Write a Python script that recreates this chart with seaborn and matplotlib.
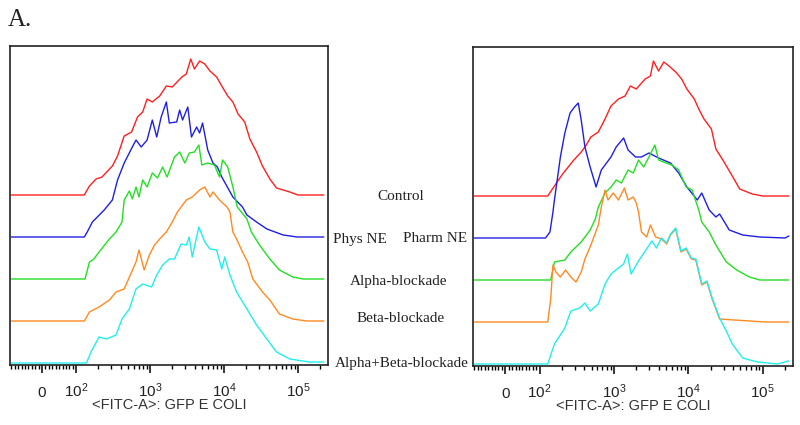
import numpy as np
import pandas as pd
import seaborn as sns
import matplotlib.pyplot as plt

SAMPLES = ["Control", "NE", "Alpha-blockade", "Beta-blockade", "Alpha+Beta-blockade"]
COLORS = ["#ff1f1f", "#1f1fe6", "#22e022", "#ff8a22", "#22eeee"]

X_START = -90      # every trace starts flat in the linear part of the axis
X_END_LOG = 5.35   # log10 of the last channel

# physiological NE panel, x = log10(FITC), y = counts
phys_ctrl_x = [2.11, 2.18, 2.27, 2.35, 2.49, 2.56, 2.65, 2.75, 2.83, 2.90,
               2.96, 3.03, 3.13, 3.22, 3.30, 3.43, 3.49, 3.55, 3.60, 3.67,
               3.74, 3.81, 3.90, 3.97, 4.05, 4.12, 4.19, 4.28, 4.35, 4.44,
               4.52, 4.62, 4.71, 4.89, 5.00]
phys_ctrl_y = [0, 9, 16, 18, 29, 39, 59, 63, 78, 83,
               96, 93, 99, 109, 108, 118, 121, 136, 126, 134,
               131, 124, 118, 109, 99, 93, 81, 73, 56, 43,
               29, 16, 7, 3, 0]
phys_ne_x = [2.11, 2.15, 2.22, 2.38, 2.49, 2.56, 2.65, 2.76, 2.81, 2.88,
             2.96, 3.03, 3.09, 3.15, 3.22, 3.26, 3.36, 3.40, 3.44, 3.51,
             3.56, 3.63, 3.67, 3.71, 3.78, 3.85, 3.91, 3.97, 4.12, 4.25,
             4.31, 4.44, 4.58, 4.80, 4.99]
phys_ne_y = [0, 5, 15, 27, 37, 57, 74, 90, 97, 90,
             97, 117, 100, 120, 135, 114, 115, 127, 117, 130,
             100, 110, 104, 114, 87, 74, 70, 60, 40, 30,
             22, 15, 8, 2, 0]
phys_alpha_x = [2.12, 2.18, 2.24, 2.31, 2.45, 2.54, 2.62, 2.65, 2.72, 2.76,
                2.81, 2.85, 2.90, 2.96, 3.03, 3.10, 3.17, 3.23, 3.33, 3.40,
                3.47, 3.53, 3.60, 3.66, 3.70, 3.78, 3.87, 3.94, 3.98, 4.05,
                4.12, 4.18, 4.31, 4.37, 4.48, 4.62, 4.75, 4.93, 5.07]
phys_alpha_y = [0, 17, 20, 27, 40, 47, 57, 79, 88, 80,
                92, 82, 99, 92, 106, 101, 112, 102, 122, 127,
                116, 126, 127, 134, 114, 116, 114, 102, 119, 112,
                92, 72, 60, 47, 34, 20, 9, 2, 0]
phys_beta_x = [2.11, 2.18, 2.31, 2.45, 2.54, 2.65, 2.75, 2.81, 2.85, 2.92,
               2.99, 3.06, 3.13, 3.22, 3.30, 3.37, 3.42, 3.49, 3.57, 3.67,
               3.74, 3.81, 3.85, 3.94, 4.04, 4.08, 4.12, 4.17, 4.25, 4.32,
               4.39, 4.52, 4.62, 4.75, 4.93, 5.12]
phys_beta_y = [0, 9, 14, 21, 29, 32, 49, 59, 71, 51,
               66, 76, 82, 89, 99, 109, 114, 121, 124, 131,
               134, 124, 129, 121, 114, 109, 89, 82, 69, 59,
               42, 29, 21, 7, 2, 0]
phys_ab_x = [2.14, 2.20, 2.31, 2.41, 2.54, 2.62, 2.72, 2.81, 2.90, 3.02,
             3.09, 3.17, 3.26, 3.33, 3.42, 3.49, 3.53, 3.57, 3.66, 3.74,
             3.81, 3.90, 3.97, 4.01, 4.08, 4.17, 4.31, 4.44, 4.58, 4.71,
             4.89, 5.16, 5.34]
phys_ab_y = [0, 11, 26, 24, 28, 44, 54, 74, 79, 76,
             88, 98, 104, 104, 119, 118, 126, 106, 136, 121,
             114, 113, 94, 106, 88, 71, 54, 38, 24, 11,
             4, 1, 1]

# pharmacological NE panel
pharm_ctrl_x = [2.11, 2.20, 2.31, 2.45, 2.56, 2.62, 2.69, 2.79, 2.88, 2.96,
                3.06, 3.15, 3.22, 3.30, 3.42, 3.49, 3.53, 3.60, 3.67, 3.74,
                3.83, 3.91, 3.98, 4.08, 4.14, 4.21, 4.31, 4.37, 4.48, 4.59,
                4.69, 4.86, 5.00]
pharm_ctrl_y = [0, 10, 22, 35, 44, 50, 59, 64, 77, 90,
                97, 100, 110, 107, 117, 120, 135, 125, 134, 130,
                124, 117, 107, 97, 87, 77, 67, 47, 34, 20,
                7, 2, 0]
pharm_ne_x = [2.08, 2.14, 2.18, 2.20, 2.28, 2.34, 2.41, 2.47, 2.52, 2.56,
              2.61, 2.68, 2.76, 2.83, 2.90, 2.96, 3.03, 3.13, 3.19, 3.29,
              3.37, 3.47, 3.60, 3.76, 3.87, 3.98, 4.12, 4.18, 4.28, 4.37,
              4.42, 4.55, 4.73, 4.96, 5.30, 5.35]
pharm_ne_y = [0, 6, 26, 38, 81, 105, 125, 131, 135, 118,
              91, 71, 51, 68, 75, 81, 91, 100, 88, 81,
              81, 85, 80, 75, 65, 51, 38, 45, 28, 21,
              24, 8, 3, 1, 0, 2]
pharm_alpha_x = [2.15, 2.20, 2.34, 2.42, 2.56, 2.68, 2.75, 2.79, 2.88, 2.96,
                 3.03, 3.10, 3.19, 3.26, 3.33, 3.40, 3.47, 3.55, 3.60, 3.70,
                 3.78, 3.87, 3.97, 4.05, 4.14, 4.18, 4.28, 4.37, 4.51, 4.65,
                 4.82, 4.96]
pharm_alpha_y = [0, 18, 20, 28, 38, 50, 61, 73, 87, 93,
                 100, 97, 110, 107, 120, 113, 123, 135, 120, 117,
                 115, 110, 93, 90, 70, 58, 48, 35, 18, 10,
                 3, 0]
pharm_beta_x = [2.11, 2.15, 2.18, 2.22, 2.28, 2.35, 2.42, 2.49, 2.56, 2.61,
                2.69, 2.79, 2.83, 2.88, 2.92, 2.99, 3.06, 3.14, 3.19, 3.26,
                3.30, 3.33, 3.37, 3.44, 3.49, 3.56, 3.64, 3.71, 3.76, 3.83,
                3.90, 3.97, 4.04, 4.10, 4.18, 4.25, 4.32, 4.42, 4.62, 5.03]
pharm_beta_y = [0, 23, 57, 50, 45, 52, 45, 40, 50, 63,
                77, 97, 115, 132, 122, 129, 122, 134, 122, 125,
                119, 110, 90, 85, 97, 85, 83, 78, 87, 93,
                70, 73, 63, 62, 37, 40, 23, 3, 2, 0]
pharm_ab_x = [2.11, 2.20, 2.34, 2.42, 2.54, 2.61, 2.68, 2.79, 2.88, 2.96,
              3.06, 3.13, 3.18, 3.23, 3.33, 3.42, 3.51, 3.57, 3.64, 3.71,
              3.76, 3.83, 3.90, 3.97, 4.04, 4.10, 4.18, 4.25, 4.32, 4.42,
              4.51, 4.59, 4.73, 4.93, 5.20, 5.34]
pharm_ab_y = [0, 20, 36, 53, 56, 61, 53, 60, 80, 90,
              96, 100, 110, 90, 103, 113, 123, 116, 126, 121,
              130, 136, 113, 116, 106, 105, 80, 83, 66, 46,
              33, 20, 6, 2, 0, 3]

PANELS = [
    [(phys_ctrl_x, phys_ctrl_y), (phys_ne_x, phys_ne_y), (phys_alpha_x, phys_alpha_y),
     (phys_beta_x, phys_beta_y), (phys_ab_x, phys_ab_y)],
    [(pharm_ctrl_x, pharm_ctrl_y), (pharm_ne_x, pharm_ne_y), (pharm_alpha_x, pharm_alpha_y),
     (pharm_beta_x, pharm_beta_y), (pharm_ab_x, pharm_ab_y)],
]

MAJOR_TICKS = [0, 1e2, 1e3, 1e4, 1e5]
MAJOR_LABELS = ["0", "$10^2$", "$10^3$", "$10^4$", "$10^5$"]


def make_frame(traces):
    frames = []
    n = len(traces)
    for i, (logx, counts) in enumerate(traces):
        x = np.concatenate([[X_START], 10 ** np.array(logx, dtype=float), [10 ** X_END_LOG]])
        y = np.concatenate([[counts[0]], counts, [counts[-1]]]).astype(float)
        offset = 2 + 42 * (n - 1 - i)
        frames.append(pd.DataFrame({"fitc": x, "y": y + offset, "sample": SAMPLES[i]}))
    return pd.concat(frames, ignore_index=True)


def style_axis(ax):
    ax.set_xscale("symlog", linthresh=100, linscale=0.415)
    ax.set_xlim(-94, 2.55e5)
    ax.set_ylim(0, 319)
    ax.set_yticks([])
    ax.set_ylabel("")
    minor = list(range(-90, 0, 10)) + list(range(10, 100, 10))
    for dec in [2, 3, 4]:
        minor += [m * 10 ** dec for m in range(2, 10)]
    minor += [2e5]
    ax.set_xticks(minor, minor=True)
    ax.set_xticks(MAJOR_TICKS)
    ax.set_xticklabels(MAJOR_LABELS)
    ax.tick_params(axis="x", which="major", direction="out", length=6, width=1.1,
                   color="black", labelsize=11, labelcolor="#222222", pad=17, bottom=True)
    ax.tick_params(axis="x", which="minor", direction="out", length=3, width=1,
                   color="black", bottom=True)
    for lbl in ax.get_xticklabels():
        lbl.set_verticalalignment("baseline")
    ax.set_xlabel("<FITC-A>: GFP E COLI", fontsize=10.5, color="#333333")
    ax.xaxis.set_label_coords(0.5, -0.105)
    for sp in ax.spines.values():
        sp.set_visible(True)
        sp.set_color("#222222")
        sp.set_linewidth(1.2)


sns.set_style("white")
plt.rcParams["font.family"] = ["Liberation Sans", "DejaVu Sans"]
plt.rcParams["mathtext.fontset"] = "custom"
plt.rcParams["mathtext.rm"] = "Liberation Sans"
plt.rcParams["mathtext.default"] = "regular"

fig = plt.figure(figsize=(8, 4.25), dpi=100)
ax_left = fig.add_axes([10 / 800, 60 / 425, 318 / 800, 319 / 425])
ax_right = fig.add_axes([473 / 800, 59 / 425, 320 / 800, 319 / 425])

for ax, traces in zip([ax_left, ax_right], PANELS):
    df = make_frame(traces)
    sns.lineplot(data=df, x="fitc", y="y", hue="sample", hue_order=SAMPLES,
                 palette=COLORS, estimator=None, sort=False, legend=False,
                 linewidth=1.0, ax=ax)
    style_axis(ax)

serif = ["Liberation Serif", "DejaVu Serif"]
fig.text(0.01, 0.953, "A.", fontsize=18, family=serif, va="center", ha="left", color="#222222")
mid_labels = [("Control", 401, 197), ("Phys NE", 360, 239), ("Pharm NE", 435, 239),
              ("Alpha-blockade", 399, 282), ("Beta-blockade", 401, 319),
              ("Alpha+Beta-blockade", 402, 363)]
for text, px, py in mid_labels:
    fig.text(px / 800, 1 - py / 425, text, fontsize=11, family=serif,
             ha="center", va="center", color="#222222")

fig.savefig("out.png", dpi=100)
